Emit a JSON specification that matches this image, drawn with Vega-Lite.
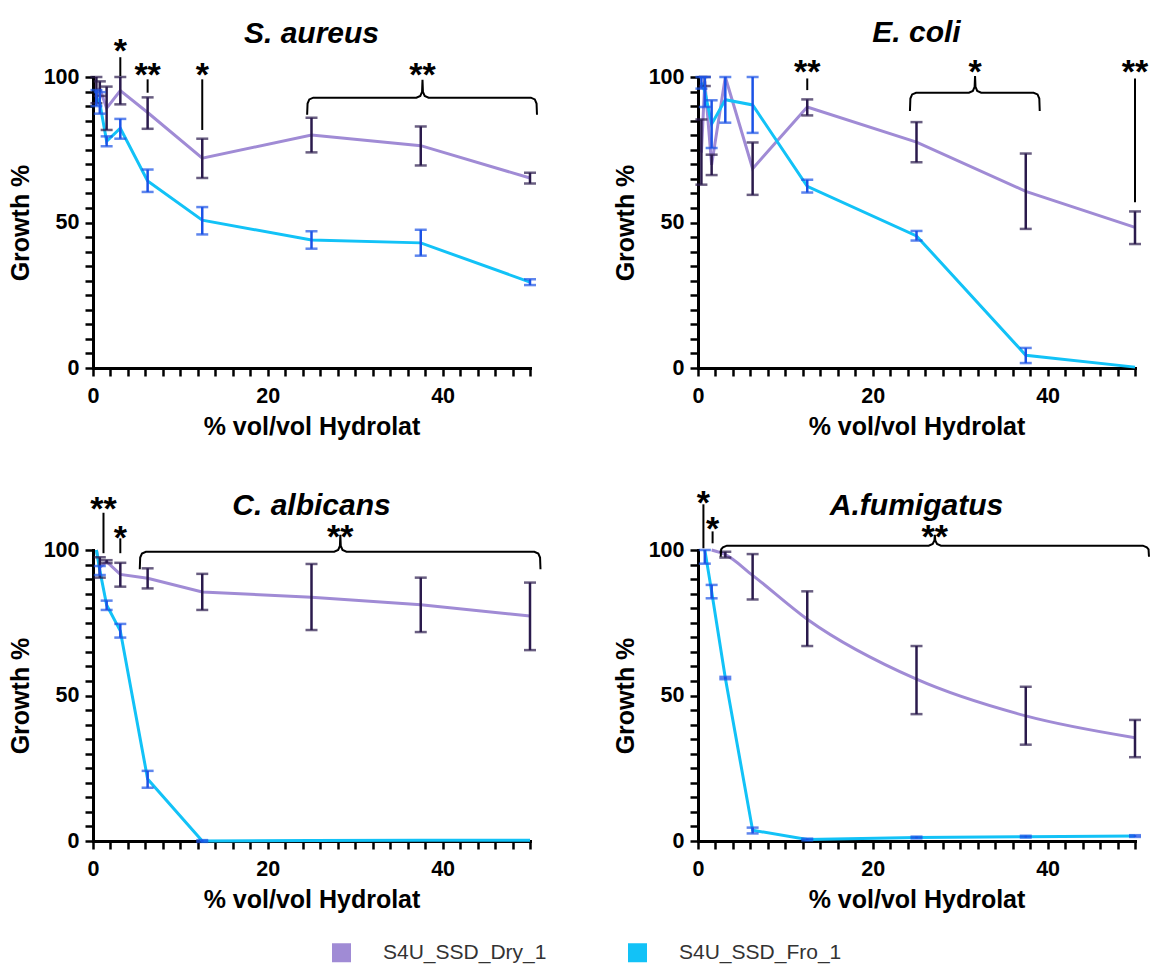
{
  "$schema": "https://vega.github.io/schema/vega-lite/v6.json",
  "background": "white",
  "padding": {"left": 8, "top": 18, "right": 5, "bottom": 5},
  "config": {
    "font": "Liberation Sans",
    "view": {"stroke": null},
    "axis": {
      "domainColor": "black", "domainWidth": 3, "domainCap": "square",
      "tickColor": "black", "tickWidth": 2.5, "tickSize": 8, "ticks": true, "tickOpacity": 1,
      "labelColor": "black", "labelFont": "Liberation Sans", "labelFontSize": 21.5, "labelFontWeight": "bold",
      "titleColor": "black", "titleFont": "Liberation Sans", "titleFontSize": 25, "titleFontWeight": "bold",
      "grid": false, "labelFlush": false, "labelOverlap": false
    },
    "axisX": {"labelPadding": 9, "titlePadding": 8},
    "axisY": {"labelPadding": 6, "titlePadding": 10},
    "title": {"font": "Liberation Sans", "fontSize": 30, "fontWeight": "bold", "fontStyle": "italic", "color": "black", "anchor": "middle", "frame": "group"}
  },
  "datasets": {
    "growth": [
      {"panel": "S. aureus", "series": "S4U_SSD_Dry_1", "conc": 0.39, "mean": 95.5, "lo": 91, "hi": 100},
      {"panel": "S. aureus", "series": "S4U_SSD_Dry_1", "conc": 0.78, "mean": 96, "lo": 93.5, "hi": 98.5},
      {"panel": "S. aureus", "series": "S4U_SSD_Dry_1", "conc": 1.56, "mean": 89.3, "lo": 81.8, "hi": 96.7},
      {"panel": "S. aureus", "series": "S4U_SSD_Dry_1", "conc": 3.125, "mean": 95.3, "lo": 90.6, "hi": 100},
      {"panel": "S. aureus", "series": "S4U_SSD_Dry_1", "conc": 6.25, "mean": 87.8, "lo": 82.2, "hi": 93},
      {"panel": "S. aureus", "series": "S4U_SSD_Dry_1", "conc": 12.5, "mean": 72.1, "lo": 65.3, "hi": 78.8},
      {"panel": "S. aureus", "series": "S4U_SSD_Dry_1", "conc": 25, "mean": 80.1, "lo": 74.1, "hi": 86},
      {"panel": "S. aureus", "series": "S4U_SSD_Dry_1", "conc": 37.5, "mean": 76.4, "lo": 69.6, "hi": 83},
      {"panel": "S. aureus", "series": "S4U_SSD_Dry_1", "conc": 50, "mean": 65.3, "lo": 63.4, "hi": 67.1},
      {"panel": "S. aureus", "series": "S4U_SSD_Fro_1", "conc": 0.39, "mean": 93, "lo": 90, "hi": 95.5},
      {"panel": "S. aureus", "series": "S4U_SSD_Fro_1", "conc": 0.78, "mean": 91, "lo": 87.4, "hi": 94.8},
      {"panel": "S. aureus", "series": "S4U_SSD_Fro_1", "conc": 1.56, "mean": 77.9, "lo": 76.2, "hi": 79.6},
      {"panel": "S. aureus", "series": "S4U_SSD_Fro_1", "conc": 3.125, "mean": 82.4, "lo": 78.8, "hi": 85.6},
      {"panel": "S. aureus", "series": "S4U_SSD_Fro_1", "conc": 6.25, "mean": 64.3, "lo": 60.5, "hi": 68.2},
      {"panel": "S. aureus", "series": "S4U_SSD_Fro_1", "conc": 12.5, "mean": 50.8, "lo": 45.9, "hi": 55.3},
      {"panel": "S. aureus", "series": "S4U_SSD_Fro_1", "conc": 25, "mean": 44, "lo": 41, "hi": 47},
      {"panel": "S. aureus", "series": "S4U_SSD_Fro_1", "conc": 37.5, "mean": 43, "lo": 38.6, "hi": 47.5},
      {"panel": "S. aureus", "series": "S4U_SSD_Fro_1", "conc": 50, "mean": 29.5, "lo": 28.5, "hi": 30.5},
      {"panel": "E. coli", "series": "S4U_SSD_Dry_1", "conc": 0.39, "mean": 74, "lo": 63, "hi": 85.4},
      {"panel": "E. coli", "series": "S4U_SSD_Dry_1", "conc": 0.78, "mean": 98.5, "lo": 96.9, "hi": 100},
      {"panel": "E. coli", "series": "S4U_SSD_Dry_1", "conc": 1.56, "mean": 69.8, "lo": 66.3, "hi": 73.3},
      {"panel": "E. coli", "series": "S4U_SSD_Dry_1", "conc": 3.125, "mean": 100, "lo": null, "hi": null},
      {"panel": "E. coli", "series": "S4U_SSD_Dry_1", "conc": 6.25, "mean": 68.5, "lo": 59.5, "hi": 77.5},
      {"panel": "E. coli", "series": "S4U_SSD_Dry_1", "conc": 12.5, "mean": 89.7, "lo": 86.8, "hi": 92.3},
      {"panel": "E. coli", "series": "S4U_SSD_Dry_1", "conc": 25, "mean": 77.6, "lo": 70.7, "hi": 84.5},
      {"panel": "E. coli", "series": "S4U_SSD_Dry_1", "conc": 37.5, "mean": 60.7, "lo": 47.8, "hi": 73.7},
      {"panel": "E. coli", "series": "S4U_SSD_Dry_1", "conc": 50, "mean": 48.3, "lo": 42.6, "hi": 53.8},
      {"panel": "E. coli", "series": "S4U_SSD_Fro_1", "conc": 0.39, "mean": 98, "lo": 96, "hi": 100},
      {"panel": "E. coli", "series": "S4U_SSD_Fro_1", "conc": 0.78, "mean": 95, "lo": 89.7, "hi": 100},
      {"panel": "E. coli", "series": "S4U_SSD_Fro_1", "conc": 1.56, "mean": 83.8, "lo": 75.6, "hi": 92},
      {"panel": "E. coli", "series": "S4U_SSD_Fro_1", "conc": 3.125, "mean": 92.2, "lo": 84.3, "hi": 100},
      {"panel": "E. coli", "series": "S4U_SSD_Fro_1", "conc": 6.25, "mean": 90.4, "lo": 80.8, "hi": 100},
      {"panel": "E. coli", "series": "S4U_SSD_Fro_1", "conc": 12.5, "mean": 62.4, "lo": 60.3, "hi": 64.7},
      {"panel": "E. coli", "series": "S4U_SSD_Fro_1", "conc": 25, "mean": 45.4, "lo": 43.8, "hi": 47.1},
      {"panel": "E. coli", "series": "S4U_SSD_Fro_1", "conc": 37.5, "mean": 4.4, "lo": 1.7, "hi": 6.9},
      {"panel": "E. coli", "series": "S4U_SSD_Fro_1", "conc": 50, "mean": 0.3, "lo": null, "hi": null},
      {"panel": "C. albicans", "series": "S4U_SSD_Dry_1", "conc": 0.39, "mean": 100, "lo": null, "hi": null},
      {"panel": "C. albicans", "series": "S4U_SSD_Dry_1", "conc": 0.78, "mean": 94, "lo": 90.5, "hi": 97.5},
      {"panel": "C. albicans", "series": "S4U_SSD_Dry_1", "conc": 1.56, "mean": 96, "lo": 95.5, "hi": 96.5},
      {"panel": "C. albicans", "series": "S4U_SSD_Dry_1", "conc": 3.125, "mean": 91.6, "lo": 87.4, "hi": 95.6},
      {"panel": "C. albicans", "series": "S4U_SSD_Dry_1", "conc": 6.25, "mean": 90.3, "lo": 86.8, "hi": 93.7},
      {"panel": "C. albicans", "series": "S4U_SSD_Dry_1", "conc": 12.5, "mean": 85.6, "lo": 79.4, "hi": 91.8},
      {"panel": "C. albicans", "series": "S4U_SSD_Dry_1", "conc": 25, "mean": 83.8, "lo": 72.5, "hi": 95.2},
      {"panel": "C. albicans", "series": "S4U_SSD_Dry_1", "conc": 37.5, "mean": 81.2, "lo": 71.8, "hi": 90.5},
      {"panel": "C. albicans", "series": "S4U_SSD_Dry_1", "conc": 50, "mean": 77.3, "lo": 65.6, "hi": 88.8},
      {"panel": "C. albicans", "series": "S4U_SSD_Fro_1", "conc": 0.39, "mean": 100, "lo": null, "hi": null},
      {"panel": "C. albicans", "series": "S4U_SSD_Fro_1", "conc": 0.78, "mean": 93, "lo": 91.4, "hi": 94.5},
      {"panel": "C. albicans", "series": "S4U_SSD_Fro_1", "conc": 1.56, "mean": 81.1, "lo": 79.4, "hi": 82.6},
      {"panel": "C. albicans", "series": "S4U_SSD_Fro_1", "conc": 3.125, "mean": 72.2, "lo": 69.9, "hi": 74.6},
      {"panel": "C. albicans", "series": "S4U_SSD_Fro_1", "conc": 6.25, "mean": 21.3, "lo": 18.3, "hi": 24.1},
      {"panel": "C. albicans", "series": "S4U_SSD_Fro_1", "conc": 12.5, "mean": 0, "lo": -0.3, "hi": 0.3},
      {"panel": "C. albicans", "series": "S4U_SSD_Fro_1", "conc": 25, "mean": 0.2, "lo": null, "hi": null},
      {"panel": "C. albicans", "series": "S4U_SSD_Fro_1", "conc": 37.5, "mean": 0.3, "lo": null, "hi": null},
      {"panel": "C. albicans", "series": "S4U_SSD_Fro_1", "conc": 50, "mean": 0.3, "lo": null, "hi": null},
      {"panel": "A.fumigatus", "series": "S4U_SSD_Dry_1", "conc": 1.56, "mean": 100, "lo": null, "hi": null},
      {"panel": "A.fumigatus", "series": "S4U_SSD_Dry_1", "conc": 3.125, "mean": 98.4, "lo": 97.4, "hi": 99.4},
      {"panel": "A.fumigatus", "series": "S4U_SSD_Dry_1", "conc": 6.25, "mean": 91.3, "lo": 83, "hi": 98.6},
      {"panel": "A.fumigatus", "series": "S4U_SSD_Dry_1", "conc": 12.5, "mean": 76.2, "lo": 67, "hi": 85.8},
      {"panel": "A.fumigatus", "series": "S4U_SSD_Dry_1", "conc": 25, "mean": 55.6, "lo": 43.6, "hi": 67},
      {"panel": "A.fumigatus", "series": "S4U_SSD_Dry_1", "conc": 37.5, "mean": 43, "lo": 33.1, "hi": 53},
      {"panel": "A.fumigatus", "series": "S4U_SSD_Dry_1", "conc": 50, "mean": 35.5, "lo": 28.8, "hi": 41.6},
      {"panel": "A.fumigatus", "series": "S4U_SSD_Fro_1", "conc": 0.78, "mean": 100, "lo": 95.3, "hi": 100},
      {"panel": "A.fumigatus", "series": "S4U_SSD_Fro_1", "conc": 1.56, "mean": 85.7, "lo": 83.4, "hi": 88},
      {"panel": "A.fumigatus", "series": "S4U_SSD_Fro_1", "conc": 3.125, "mean": 56, "lo": 55.6, "hi": 56.4},
      {"panel": "A.fumigatus", "series": "S4U_SSD_Fro_1", "conc": 6.25, "mean": 3.7, "lo": 2.6, "hi": 4.6},
      {"panel": "A.fumigatus", "series": "S4U_SSD_Fro_1", "conc": 12.5, "mean": 0.5, "lo": 0.2, "hi": 0.8},
      {"panel": "A.fumigatus", "series": "S4U_SSD_Fro_1", "conc": 25, "mean": 1.2, "lo": 0.9, "hi": 1.5},
      {"panel": "A.fumigatus", "series": "S4U_SSD_Fro_1", "conc": 37.5, "mean": 1.5, "lo": 1.2, "hi": 1.8},
      {"panel": "A.fumigatus", "series": "S4U_SSD_Fro_1", "conc": 50, "mean": 1.7, "lo": 1.4, "hi": 2.0}
    ],
    "sig": [
      {"panel": "S. aureus", "conc": 3.125, "y": 100.3, "y2": 106.8},
      {"panel": "S. aureus", "conc": 6.25, "y": 94.6, "y2": 99.2},
      {"panel": "S. aureus", "conc": 12.5, "y": 81.8, "y2": 99.2},
      {"panel": "E. coli", "conc": 12.5, "y": 95.5, "y2": 99.5},
      {"panel": "E. coli", "conc": 50, "y": 57, "y2": 99.5},
      {"panel": "C. albicans", "conc": 1.2, "y": 98.9, "y2": 112.8},
      {"panel": "C. albicans", "conc": 3.125, "y": 98.9, "y2": 104},
      {"panel": "A.fumigatus", "conc": 0.62, "y": 100.6, "y2": 115.7},
      {"panel": "A.fumigatus", "conc": 1.67, "y": 102.3, "y2": 106.4}
    ],
    "stars": [
      {"panel": "S. aureus", "conc": 3.125, "y": 105.1, "label": "*"},
      {"panel": "S. aureus", "conc": 6.25, "y": 97.0, "label": "**"},
      {"panel": "S. aureus", "conc": 12.5, "y": 97.0, "label": "*"},
      {"panel": "S. aureus", "conc": 37.7, "y": 97.0, "label": "**"},
      {"panel": "E. coli", "conc": 12.5, "y": 97.8, "label": "**"},
      {"panel": "E. coli", "conc": 31.7, "y": 97.8, "label": "*"},
      {"panel": "E. coli", "conc": 50, "y": 97.8, "label": "**"},
      {"panel": "C. albicans", "conc": 1.2, "y": 110.3, "label": "**"},
      {"panel": "C. albicans", "conc": 3.125, "y": 100.5, "label": "*"},
      {"panel": "C. albicans", "conc": 28.3, "y": 100.7, "label": "**"},
      {"panel": "A.fumigatus", "conc": 0.62, "y": 112.4, "label": "*"},
      {"panel": "A.fumigatus", "conc": 1.67, "y": 103.3, "label": "*"},
      {"panel": "A.fumigatus", "conc": 27.1, "y": 100.6, "label": "**"}
    ],
    "brace": [
      {"panel": "S. aureus", "ord": 1, "conc": 24.5, "y": 87},
      {"panel": "S. aureus", "ord": 2, "conc": 24.55, "y": 90.9},
      {"panel": "S. aureus", "ord": 3, "conc": 24.75, "y": 92.3},
      {"panel": "S. aureus", "ord": 4, "conc": 25.2, "y": 92.9},
      {"panel": "S. aureus", "ord": 5, "conc": 37.0, "y": 92.9},
      {"panel": "S. aureus", "ord": 6, "conc": 37.45, "y": 93.5},
      {"panel": "S. aureus", "ord": 7, "conc": 37.65, "y": 94.9},
      {"panel": "S. aureus", "ord": 8, "conc": 37.7, "y": 99},
      {"panel": "S. aureus", "ord": 9, "conc": 37.75, "y": 94.9},
      {"panel": "S. aureus", "ord": 10, "conc": 37.95, "y": 93.5},
      {"panel": "S. aureus", "ord": 11, "conc": 38.4, "y": 92.9},
      {"panel": "S. aureus", "ord": 12, "conc": 50.1, "y": 92.9},
      {"panel": "S. aureus", "ord": 13, "conc": 50.55, "y": 92.3},
      {"panel": "S. aureus", "ord": 14, "conc": 50.75, "y": 90.9},
      {"panel": "S. aureus", "ord": 15, "conc": 50.8, "y": 87},
      {"panel": "E. coli", "ord": 1, "conc": 24.25, "y": 88.3},
      {"panel": "E. coli", "ord": 2, "conc": 24.3, "y": 92.6},
      {"panel": "E. coli", "ord": 3, "conc": 24.5, "y": 94.0},
      {"panel": "E. coli", "ord": 4, "conc": 24.95, "y": 94.6},
      {"panel": "E. coli", "ord": 5, "conc": 31.0, "y": 94.6},
      {"panel": "E. coli", "ord": 6, "conc": 31.45, "y": 95.2},
      {"panel": "E. coli", "ord": 7, "conc": 31.65, "y": 96.6},
      {"panel": "E. coli", "ord": 8, "conc": 31.7, "y": 100.3},
      {"panel": "E. coli", "ord": 9, "conc": 31.75, "y": 96.6},
      {"panel": "E. coli", "ord": 10, "conc": 31.95, "y": 95.2},
      {"panel": "E. coli", "ord": 11, "conc": 32.4, "y": 94.6},
      {"panel": "E. coli", "ord": 12, "conc": 38.4, "y": 94.6},
      {"panel": "E. coli", "ord": 13, "conc": 38.85, "y": 94.0},
      {"panel": "E. coli", "ord": 14, "conc": 39.05, "y": 92.6},
      {"panel": "E. coli", "ord": 15, "conc": 39.1, "y": 88.3},
      {"panel": "C. albicans", "ord": 1, "conc": 5.35, "y": 93.4},
      {"panel": "C. albicans", "ord": 2, "conc": 5.4, "y": 97.4},
      {"panel": "C. albicans", "ord": 3, "conc": 5.6, "y": 98.8},
      {"panel": "C. albicans", "ord": 4, "conc": 6.05, "y": 99.4},
      {"panel": "C. albicans", "ord": 5, "conc": 27.6, "y": 99.4},
      {"panel": "C. albicans", "ord": 6, "conc": 28.05, "y": 100.0},
      {"panel": "C. albicans", "ord": 7, "conc": 28.25, "y": 101.4},
      {"panel": "C. albicans", "ord": 8, "conc": 28.3, "y": 105.2},
      {"panel": "C. albicans", "ord": 9, "conc": 28.35, "y": 101.4},
      {"panel": "C. albicans", "ord": 10, "conc": 28.55, "y": 100.0},
      {"panel": "C. albicans", "ord": 11, "conc": 29.0, "y": 99.4},
      {"panel": "C. albicans", "ord": 12, "conc": 50.5, "y": 99.4},
      {"panel": "C. albicans", "ord": 13, "conc": 50.95, "y": 98.8},
      {"panel": "C. albicans", "ord": 14, "conc": 51.15, "y": 97.4},
      {"panel": "C. albicans", "ord": 15, "conc": 51.2, "y": 93.4},
      {"panel": "A.fumigatus", "ord": 1, "conc": 2.6, "y": 97.7},
      {"panel": "A.fumigatus", "ord": 2, "conc": 2.65, "y": 100.2},
      {"panel": "A.fumigatus", "ord": 3, "conc": 2.85, "y": 100.9},
      {"panel": "A.fumigatus", "ord": 4, "conc": 3.3, "y": 101.5},
      {"panel": "A.fumigatus", "ord": 5, "conc": 26.4, "y": 101.5},
      {"panel": "A.fumigatus", "ord": 6, "conc": 26.85, "y": 102.1},
      {"panel": "A.fumigatus", "ord": 7, "conc": 27.05, "y": 103.3},
      {"panel": "A.fumigatus", "ord": 8, "conc": 27.1, "y": 105.2},
      {"panel": "A.fumigatus", "ord": 9, "conc": 27.15, "y": 103.3},
      {"panel": "A.fumigatus", "ord": 10, "conc": 27.35, "y": 102.1},
      {"panel": "A.fumigatus", "ord": 11, "conc": 27.8, "y": 101.5},
      {"panel": "A.fumigatus", "ord": 12, "conc": 50.9, "y": 101.5},
      {"panel": "A.fumigatus", "ord": 13, "conc": 51.35, "y": 100.9},
      {"panel": "A.fumigatus", "ord": 14, "conc": 51.55, "y": 100.2},
      {"panel": "A.fumigatus", "ord": 15, "conc": 51.6, "y": 97.7}
    ]
  },
  "columns": 2,
  "spacing": {"row": 46, "column": 68},
  "concat": [
    {
      "width": 437, "height": 291,
      "title": {"text": "S. aureus", "offset": -14},
      "layer": [
        {"data": {"name": "growth"}, "transform": [{"filter": "datum.panel === 'S. aureus' && datum.series === 'S4U_SSD_Dry_1'"}],
         "mark": {"type": "line", "strokeWidth": 3},
         "encoding": {
           "x": {"field": "conc", "type": "quantitative", "title": "% vol/vol Hydrolat", "scale": {"domain": [0, 50], "nice": false},
                 "axis": {"values": [0,2,4,6,8,10,12,14,16,18,20,22,24,26,28,30,32,34,36,38,40,42,44,46,48,50], "tickCount": 100, "format": "d", "labelExpr": "datum.value % 20 === 0 ? datum.label : ''", "tickSize": 8}},
           "y": {"field": "mean", "type": "quantitative", "title": "Growth %", "scale": {"domain": [0, 100], "nice": false},
                 "axis": {"values": [0,5,10,15,20,25,30,35,40,45,50,55,60,65,70,75,80,85,90,95,100], "tickCount": 100, "format": "d", "labelExpr": "datum.value % 50 === 0 ? datum.label : ''", "tickSize": 8}},
           "color": {"field": "series", "type": "nominal", "scale": {"domain": ["S4U_SSD_Dry_1", "S4U_SSD_Fro_1"], "range": ["#a08bd5", "#12c2f7"]},
                     "legend": {"orient": "none", "legendX": 238, "legendY": 865, "direction": "horizontal", "title": null, "symbolType": "square", "symbolSize": 361, "symbolStrokeWidth": 0, "labelFont": "Liberation Sans", "labelFontSize": 21, "labelColor": "#333333", "labelOffset": 31, "columnPadding": 80, "labelLimit": 400,
                                "encode": {"symbols": {"update": {"fill": {"scale": "color", "field": "value"}, "stroke": {"value": "transparent"}}}}}}
         }},
        {"data": {"name": "growth"}, "transform": [{"filter": "datum.panel === 'S. aureus' && datum.series === 'S4U_SSD_Fro_1'"}],
         "mark": {"type": "line", "strokeWidth": 3},
         "encoding": {
           "x": {"field": "conc", "type": "quantitative", "title": "% vol/vol Hydrolat", "scale": {"domain": [0, 50], "nice": false}},
           "y": {"field": "mean", "type": "quantitative", "title": "Growth %", "scale": {"domain": [0, 100], "nice": false}},
           "color": {"field": "series", "type": "nominal", "scale": {"domain": ["S4U_SSD_Dry_1", "S4U_SSD_Fro_1"], "range": ["#a08bd5", "#12c2f7"]}}
         }},
        {"data": {"name": "growth"}, "transform": [{"filter": "datum.panel === 'S. aureus' && datum.series === 'S4U_SSD_Dry_1' && isValid(datum.lo)"}],
         "mark": {"type": "errorbar", "ticks": true, "size": 12, "thickness": 2.5, "color": "#2a1a4c"},
         "encoding": {
           "x": {"field": "conc", "type": "quantitative", "title": "% vol/vol Hydrolat", "scale": {"domain": [0, 50], "nice": false}},
           "y": {"field": "lo", "type": "quantitative", "title": "Growth %", "scale": {"domain": [0, 100], "nice": false}},
           "y2": {"field": "hi"}
         }},
        {"data": {"name": "growth"}, "transform": [{"filter": "datum.panel === 'S. aureus' && datum.series === 'S4U_SSD_Fro_1' && isValid(datum.lo)"}],
         "mark": {"type": "errorbar", "ticks": true, "size": 12, "thickness": 2.5, "color": "#1b52e6"},
         "encoding": {
           "x": {"field": "conc", "type": "quantitative", "title": "% vol/vol Hydrolat", "scale": {"domain": [0, 50], "nice": false}},
           "y": {"field": "lo", "type": "quantitative", "title": "Growth %", "scale": {"domain": [0, 100], "nice": false}},
           "y2": {"field": "hi"}
         }},
        {"data": {"name": "sig"}, "transform": [{"filter": "datum.panel === 'S. aureus'"}],
         "mark": {"type": "rule", "strokeWidth": 2, "color": "black"},
         "encoding": {
           "x": {"field": "conc", "type": "quantitative", "title": "% vol/vol Hydrolat", "scale": {"domain": [0, 50], "nice": false}},
           "y": {"field": "y", "type": "quantitative", "title": "Growth %", "scale": {"domain": [0, 100], "nice": false}},
           "y2": {"field": "y2"}
         }},
        {"data": {"name": "brace"}, "transform": [{"filter": "datum.panel === 'S. aureus'"}],
         "mark": {"type": "line", "strokeWidth": 2, "color": "black"},
         "encoding": {
           "x": {"field": "conc", "type": "quantitative", "title": "% vol/vol Hydrolat", "scale": {"domain": [0, 50], "nice": false}},
           "y": {"field": "y", "type": "quantitative", "title": "Growth %", "scale": {"domain": [0, 100], "nice": false}},
           "order": {"field": "ord", "type": "quantitative"}
         }},
        {"data": {"name": "stars"}, "transform": [{"filter": "datum.panel === 'S. aureus'"}],
         "mark": {"type": "text", "font": "Liberation Sans", "fontSize": 34, "fontWeight": "bold", "baseline": "alphabetic", "align": "center", "color": "black"},
         "encoding": {
           "x": {"field": "conc", "type": "quantitative", "title": "% vol/vol Hydrolat", "scale": {"domain": [0, 50], "nice": false}},
           "y": {"field": "y", "type": "quantitative", "title": "Growth %", "scale": {"domain": [0, 100], "nice": false}},
           "text": {"field": "label", "type": "nominal"}
         }}
      ]
    },
    {
      "width": 437, "height": 291,
      "title": {"text": "E. coli", "offset": 8},
      "layer": [
        {"data": {"name": "growth"}, "transform": [{"filter": "datum.panel === 'E. coli' && datum.series === 'S4U_SSD_Dry_1'"}],
         "mark": {"type": "line", "strokeWidth": 3},
         "encoding": {
           "x": {"field": "conc", "type": "quantitative", "title": "% vol/vol Hydrolat", "scale": {"domain": [0, 50], "nice": false},
                 "axis": {"values": [0,2,4,6,8,10,12,14,16,18,20,22,24,26,28,30,32,34,36,38,40,42,44,46,48,50], "tickCount": 100, "format": "d", "labelExpr": "datum.value % 20 === 0 ? datum.label : ''", "tickSize": 8}},
           "y": {"field": "mean", "type": "quantitative", "title": "Growth %", "scale": {"domain": [0, 100], "nice": false},
                 "axis": {"values": [0,5,10,15,20,25,30,35,40,45,50,55,60,65,70,75,80,85,90,95,100], "tickCount": 100, "format": "d", "labelExpr": "datum.value % 50 === 0 ? datum.label : ''", "tickSize": 8}},
           "color": {"field": "series", "type": "nominal", "scale": {"domain": ["S4U_SSD_Dry_1", "S4U_SSD_Fro_1"], "range": ["#a08bd5", "#12c2f7"]}}
         }},
        {"data": {"name": "growth"}, "transform": [{"filter": "datum.panel === 'E. coli' && datum.series === 'S4U_SSD_Fro_1'"}],
         "mark": {"type": "line", "strokeWidth": 3},
         "encoding": {
           "x": {"field": "conc", "type": "quantitative", "title": "% vol/vol Hydrolat", "scale": {"domain": [0, 50], "nice": false}},
           "y": {"field": "mean", "type": "quantitative", "title": "Growth %", "scale": {"domain": [0, 100], "nice": false}},
           "color": {"field": "series", "type": "nominal", "scale": {"domain": ["S4U_SSD_Dry_1", "S4U_SSD_Fro_1"], "range": ["#a08bd5", "#12c2f7"]}}
         }},
        {"data": {"name": "growth"}, "transform": [{"filter": "datum.panel === 'E. coli' && datum.series === 'S4U_SSD_Dry_1' && isValid(datum.lo)"}],
         "mark": {"type": "errorbar", "ticks": true, "size": 12, "thickness": 2.5, "color": "#2a1a4c"},
         "encoding": {
           "x": {"field": "conc", "type": "quantitative", "title": "% vol/vol Hydrolat", "scale": {"domain": [0, 50], "nice": false}},
           "y": {"field": "lo", "type": "quantitative", "title": "Growth %", "scale": {"domain": [0, 100], "nice": false}},
           "y2": {"field": "hi"}
         }},
        {"data": {"name": "growth"}, "transform": [{"filter": "datum.panel === 'E. coli' && datum.series === 'S4U_SSD_Fro_1' && isValid(datum.lo)"}],
         "mark": {"type": "errorbar", "ticks": true, "size": 12, "thickness": 2.5, "color": "#1b52e6"},
         "encoding": {
           "x": {"field": "conc", "type": "quantitative", "title": "% vol/vol Hydrolat", "scale": {"domain": [0, 50], "nice": false}},
           "y": {"field": "lo", "type": "quantitative", "title": "Growth %", "scale": {"domain": [0, 100], "nice": false}},
           "y2": {"field": "hi"}
         }},
        {"data": {"name": "sig"}, "transform": [{"filter": "datum.panel === 'E. coli'"}],
         "mark": {"type": "rule", "strokeWidth": 2, "color": "black"},
         "encoding": {
           "x": {"field": "conc", "type": "quantitative", "title": "% vol/vol Hydrolat", "scale": {"domain": [0, 50], "nice": false}},
           "y": {"field": "y", "type": "quantitative", "title": "Growth %", "scale": {"domain": [0, 100], "nice": false}},
           "y2": {"field": "y2"}
         }},
        {"data": {"name": "brace"}, "transform": [{"filter": "datum.panel === 'E. coli'"}],
         "mark": {"type": "line", "strokeWidth": 2, "color": "black"},
         "encoding": {
           "x": {"field": "conc", "type": "quantitative", "title": "% vol/vol Hydrolat", "scale": {"domain": [0, 50], "nice": false}},
           "y": {"field": "y", "type": "quantitative", "title": "Growth %", "scale": {"domain": [0, 100], "nice": false}},
           "order": {"field": "ord", "type": "quantitative"}
         }},
        {"data": {"name": "stars"}, "transform": [{"filter": "datum.panel === 'E. coli'"}],
         "mark": {"type": "text", "font": "Liberation Sans", "fontSize": 34, "fontWeight": "bold", "baseline": "alphabetic", "align": "center", "color": "black"},
         "encoding": {
           "x": {"field": "conc", "type": "quantitative", "title": "% vol/vol Hydrolat", "scale": {"domain": [0, 50], "nice": false}},
           "y": {"field": "y", "type": "quantitative", "title": "Growth %", "scale": {"domain": [0, 100], "nice": false}},
           "text": {"field": "label", "type": "nominal"}
         }}
      ]
    },
    {
      "width": 437, "height": 291,
      "title": {"text": "C. albicans", "offset": -28},
      "layer": [
        {"data": {"name": "growth"}, "transform": [{"filter": "datum.panel === 'C. albicans' && datum.series === 'S4U_SSD_Dry_1'"}],
         "mark": {"type": "line", "strokeWidth": 3},
         "encoding": {
           "x": {"field": "conc", "type": "quantitative", "title": "% vol/vol Hydrolat", "scale": {"domain": [0, 50], "nice": false},
                 "axis": {"values": [0,2,4,6,8,10,12,14,16,18,20,22,24,26,28,30,32,34,36,38,40,42,44,46,48,50], "tickCount": 100, "format": "d", "labelExpr": "datum.value % 20 === 0 ? datum.label : ''", "tickSize": 8}},
           "y": {"field": "mean", "type": "quantitative", "title": "Growth %", "scale": {"domain": [0, 100], "nice": false},
                 "axis": {"values": [0,5,10,15,20,25,30,35,40,45,50,55,60,65,70,75,80,85,90,95,100], "tickCount": 100, "format": "d", "labelExpr": "datum.value % 50 === 0 ? datum.label : ''", "tickSize": 8}},
           "color": {"field": "series", "type": "nominal", "scale": {"domain": ["S4U_SSD_Dry_1", "S4U_SSD_Fro_1"], "range": ["#a08bd5", "#12c2f7"]}}
         }},
        {"data": {"name": "growth"}, "transform": [{"filter": "datum.panel === 'C. albicans' && datum.series === 'S4U_SSD_Fro_1'"}],
         "mark": {"type": "line", "strokeWidth": 3},
         "encoding": {
           "x": {"field": "conc", "type": "quantitative", "title": "% vol/vol Hydrolat", "scale": {"domain": [0, 50], "nice": false}},
           "y": {"field": "mean", "type": "quantitative", "title": "Growth %", "scale": {"domain": [0, 100], "nice": false}},
           "color": {"field": "series", "type": "nominal", "scale": {"domain": ["S4U_SSD_Dry_1", "S4U_SSD_Fro_1"], "range": ["#a08bd5", "#12c2f7"]}}
         }},
        {"data": {"name": "growth"}, "transform": [{"filter": "datum.panel === 'C. albicans' && datum.series === 'S4U_SSD_Dry_1' && isValid(datum.lo)"}],
         "mark": {"type": "errorbar", "ticks": true, "size": 12, "thickness": 2.5, "color": "#2a1a4c"},
         "encoding": {
           "x": {"field": "conc", "type": "quantitative", "title": "% vol/vol Hydrolat", "scale": {"domain": [0, 50], "nice": false}},
           "y": {"field": "lo", "type": "quantitative", "title": "Growth %", "scale": {"domain": [0, 100], "nice": false}},
           "y2": {"field": "hi"}
         }},
        {"data": {"name": "growth"}, "transform": [{"filter": "datum.panel === 'C. albicans' && datum.series === 'S4U_SSD_Fro_1' && isValid(datum.lo)"}],
         "mark": {"type": "errorbar", "ticks": true, "size": 12, "thickness": 2.5, "color": "#1b52e6"},
         "encoding": {
           "x": {"field": "conc", "type": "quantitative", "title": "% vol/vol Hydrolat", "scale": {"domain": [0, 50], "nice": false}},
           "y": {"field": "lo", "type": "quantitative", "title": "Growth %", "scale": {"domain": [0, 100], "nice": false}},
           "y2": {"field": "hi"}
         }},
        {"data": {"name": "sig"}, "transform": [{"filter": "datum.panel === 'C. albicans'"}],
         "mark": {"type": "rule", "strokeWidth": 2, "color": "black"},
         "encoding": {
           "x": {"field": "conc", "type": "quantitative", "title": "% vol/vol Hydrolat", "scale": {"domain": [0, 50], "nice": false}},
           "y": {"field": "y", "type": "quantitative", "title": "Growth %", "scale": {"domain": [0, 100], "nice": false}},
           "y2": {"field": "y2"}
         }},
        {"data": {"name": "brace"}, "transform": [{"filter": "datum.panel === 'C. albicans'"}],
         "mark": {"type": "line", "strokeWidth": 2, "color": "black"},
         "encoding": {
           "x": {"field": "conc", "type": "quantitative", "title": "% vol/vol Hydrolat", "scale": {"domain": [0, 50], "nice": false}},
           "y": {"field": "y", "type": "quantitative", "title": "Growth %", "scale": {"domain": [0, 100], "nice": false}},
           "order": {"field": "ord", "type": "quantitative"}
         }},
        {"data": {"name": "stars"}, "transform": [{"filter": "datum.panel === 'C. albicans'"}],
         "mark": {"type": "text", "font": "Liberation Sans", "fontSize": 34, "fontWeight": "bold", "baseline": "alphabetic", "align": "center", "color": "black"},
         "encoding": {
           "x": {"field": "conc", "type": "quantitative", "title": "% vol/vol Hydrolat", "scale": {"domain": [0, 50], "nice": false}},
           "y": {"field": "y", "type": "quantitative", "title": "Growth %", "scale": {"domain": [0, 100], "nice": false}},
           "text": {"field": "label", "type": "nominal"}
         }}
      ]
    },
    {
      "width": 437, "height": 291,
      "title": {"text": "A.fumigatus", "offset": -34},
      "layer": [
        {"data": {"name": "growth"}, "transform": [{"filter": "datum.panel === 'A.fumigatus' && datum.series === 'S4U_SSD_Dry_1'"}],
         "mark": {"type": "line", "strokeWidth": 3, "interpolate": "monotone"},
         "encoding": {
           "x": {"field": "conc", "type": "quantitative", "title": "% vol/vol Hydrolat", "scale": {"domain": [0, 50], "nice": false},
                 "axis": {"values": [0,2,4,6,8,10,12,14,16,18,20,22,24,26,28,30,32,34,36,38,40,42,44,46,48,50], "tickCount": 100, "format": "d", "labelExpr": "datum.value % 20 === 0 ? datum.label : ''", "tickSize": 8}},
           "y": {"field": "mean", "type": "quantitative", "title": "Growth %", "scale": {"domain": [0, 100], "nice": false},
                 "axis": {"values": [0,5,10,15,20,25,30,35,40,45,50,55,60,65,70,75,80,85,90,95,100], "tickCount": 100, "format": "d", "labelExpr": "datum.value % 50 === 0 ? datum.label : ''", "tickSize": 8}},
           "color": {"field": "series", "type": "nominal", "scale": {"domain": ["S4U_SSD_Dry_1", "S4U_SSD_Fro_1"], "range": ["#a08bd5", "#12c2f7"]}}
         }},
        {"data": {"name": "growth"}, "transform": [{"filter": "datum.panel === 'A.fumigatus' && datum.series === 'S4U_SSD_Fro_1'"}],
         "mark": {"type": "line", "strokeWidth": 3},
         "encoding": {
           "x": {"field": "conc", "type": "quantitative", "title": "% vol/vol Hydrolat", "scale": {"domain": [0, 50], "nice": false}},
           "y": {"field": "mean", "type": "quantitative", "title": "Growth %", "scale": {"domain": [0, 100], "nice": false}},
           "color": {"field": "series", "type": "nominal", "scale": {"domain": ["S4U_SSD_Dry_1", "S4U_SSD_Fro_1"], "range": ["#a08bd5", "#12c2f7"]}}
         }},
        {"data": {"name": "growth"}, "transform": [{"filter": "datum.panel === 'A.fumigatus' && datum.series === 'S4U_SSD_Dry_1' && isValid(datum.lo)"}],
         "mark": {"type": "errorbar", "ticks": true, "size": 12, "thickness": 2.5, "color": "#2a1a4c"},
         "encoding": {
           "x": {"field": "conc", "type": "quantitative", "title": "% vol/vol Hydrolat", "scale": {"domain": [0, 50], "nice": false}},
           "y": {"field": "lo", "type": "quantitative", "title": "Growth %", "scale": {"domain": [0, 100], "nice": false}},
           "y2": {"field": "hi"}
         }},
        {"data": {"name": "growth"}, "transform": [{"filter": "datum.panel === 'A.fumigatus' && datum.series === 'S4U_SSD_Fro_1' && isValid(datum.lo)"}],
         "mark": {"type": "errorbar", "ticks": true, "size": 12, "thickness": 2.5, "color": "#1b52e6"},
         "encoding": {
           "x": {"field": "conc", "type": "quantitative", "title": "% vol/vol Hydrolat", "scale": {"domain": [0, 50], "nice": false}},
           "y": {"field": "lo", "type": "quantitative", "title": "Growth %", "scale": {"domain": [0, 100], "nice": false}},
           "y2": {"field": "hi"}
         }},
        {"data": {"name": "sig"}, "transform": [{"filter": "datum.panel === 'A.fumigatus'"}],
         "mark": {"type": "rule", "strokeWidth": 2, "color": "black"},
         "encoding": {
           "x": {"field": "conc", "type": "quantitative", "title": "% vol/vol Hydrolat", "scale": {"domain": [0, 50], "nice": false}},
           "y": {"field": "y", "type": "quantitative", "title": "Growth %", "scale": {"domain": [0, 100], "nice": false}},
           "y2": {"field": "y2"}
         }},
        {"data": {"name": "brace"}, "transform": [{"filter": "datum.panel === 'A.fumigatus'"}],
         "mark": {"type": "line", "strokeWidth": 2, "color": "black"},
         "encoding": {
           "x": {"field": "conc", "type": "quantitative", "title": "% vol/vol Hydrolat", "scale": {"domain": [0, 50], "nice": false}},
           "y": {"field": "y", "type": "quantitative", "title": "Growth %", "scale": {"domain": [0, 100], "nice": false}},
           "order": {"field": "ord", "type": "quantitative"}
         }},
        {"data": {"name": "stars"}, "transform": [{"filter": "datum.panel === 'A.fumigatus'"}],
         "mark": {"type": "text", "font": "Liberation Sans", "fontSize": 34, "fontWeight": "bold", "baseline": "alphabetic", "align": "center", "color": "black"},
         "encoding": {
           "x": {"field": "conc", "type": "quantitative", "title": "% vol/vol Hydrolat", "scale": {"domain": [0, 50], "nice": false}},
           "y": {"field": "y", "type": "quantitative", "title": "Growth %", "scale": {"domain": [0, 100], "nice": false}},
           "text": {"field": "label", "type": "nominal"}
         }}
      ]
    }
  ]
}
